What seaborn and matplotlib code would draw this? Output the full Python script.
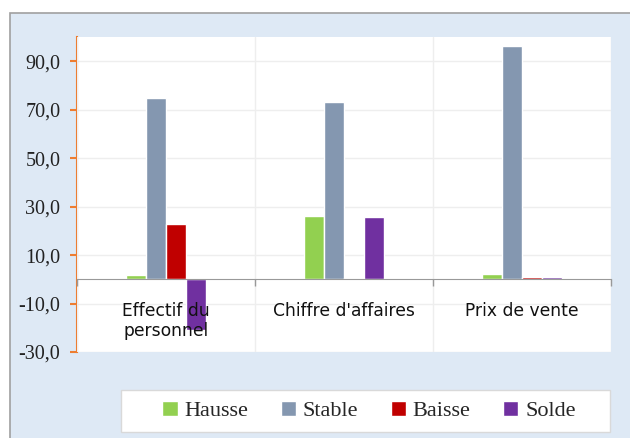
import pandas as pd
import matplotlib.pyplot as plt
import seaborn as sns
from matplotlib.patches import Rectangle

categories = ["Effectif du\npersonnel", "Chiffre d'affaires", "Prix de vente"]
series = ["Hausse", "Stable", "Baisse", "Solde"]
hausse = [1.9, 26.3, 2.3]
stable = [74.8, 73.1, 96.2]
baisse = [23.0, 0.4, 1.0]
solde = [-20.9, 25.9, 1.0]
colors = ["#92D050", "#8497B0", "#C00000", "#7030A0"]
yticks = [-30, -10, 10, 30, 50, 70, 90]

rows = []
for name, vals in zip(series, [hausse, stable, baisse, solde]):
    for cat, v in zip(categories, vals):
        rows.append({"cat": cat, "serie": name, "val": v})
df = pd.DataFrame(rows)

sns.set_style("white")
fig = plt.figure(figsize=(6.3, 4.38), dpi=100)
fig.patch.set_facecolor("white")
bg = Rectangle((10 / 630, -0.05), 1.0, (438 - 13) / 438 + 0.05,
               transform=fig.transFigure, facecolor="#DEE9F5",
               edgecolor="#A0A0A0", linewidth=1.2, zorder=-10)
fig.add_artist(bg)
# legend box
fig.add_artist(Rectangle((121 / 630, 1 - 432 / 438), (610 - 121) / 630, 42 / 438,
                         transform=fig.transFigure, facecolor="white",
                         edgecolor="#D9D9D9", linewidth=1, zorder=-5))

ax = fig.add_axes([77 / 630, (438 - 352) / 438, (611 - 77) / 630, (352 - 37) / 438])
ax.set_zorder(1)
ax.set_facecolor("white")
sns.barplot(data=df, x="cat", y="val", hue="serie", palette=colors,
            width=0.45, gap=0, saturation=1, ax=ax, legend=False)

ax.set_ylim(-30, 100)
ax.set_xlim(-0.5, 2.5)
ax.set_yticks(yticks)
ax.set_yticklabels([f"{t:.1f}".replace(".", ",") for t in yticks],
                   fontfamily="Liberation Serif", fontsize=14.5, color="#222222")
ax.set_xlabel("")
ax.set_ylabel("")

ax.set_xticks([-0.5, 0.5, 1.5, 2.5], minor=True)
ax.tick_params(axis="x", which="major", bottom=True, length=0, pad=16, labelsize=12.3,
               labelcolor="#111111")
ax.tick_params(axis="x", which="minor", bottom=True, length=5, width=1,
               color="#999999", direction="out")
for lbl in ax.get_xticklabels():
    lbl.set_fontfamily("Lato")
    lbl.set_linespacing(1.6)
ax.tick_params(axis="y", left=True, length=5, width=1.5, color="#ED7D31",
               direction="out", pad=7)

ax.grid(True, axis="y", which="major", color="#EEEEEE", linewidth=1)
ax.grid(True, axis="x", which="minor", color="#EEEEEE", linewidth=1)
ax.set_axisbelow(True)
ax.xaxis.set_zorder(5)

ax.spines["bottom"].set_position(("data", 0))
ax.spines["bottom"].set_color("#999999")
ax.spines["bottom"].set_zorder(6)
ax.spines["left"].set_color("#ED7D31")
ax.spines["left"].set_linewidth(1.5)
ax.spines["top"].set_visible(False)
ax.spines["right"].set_visible(False)

handles = [Rectangle((0, 0), 1, 1, facecolor=c) for c in colors]
leg = fig.legend(handles, series, loc="center", ncol=4,
                 bbox_to_anchor=((158 + 580) / 2 / 630, 1 - 411 / 438),
                 prop={"family": "Liberation Serif", "size": 16},
                 frameon=False,
                 handlelength=0.7, handleheight=0.7, handletextpad=0.3,
                 columnspacing=1.45)

fig.savefig("out.png", dpi=100)
